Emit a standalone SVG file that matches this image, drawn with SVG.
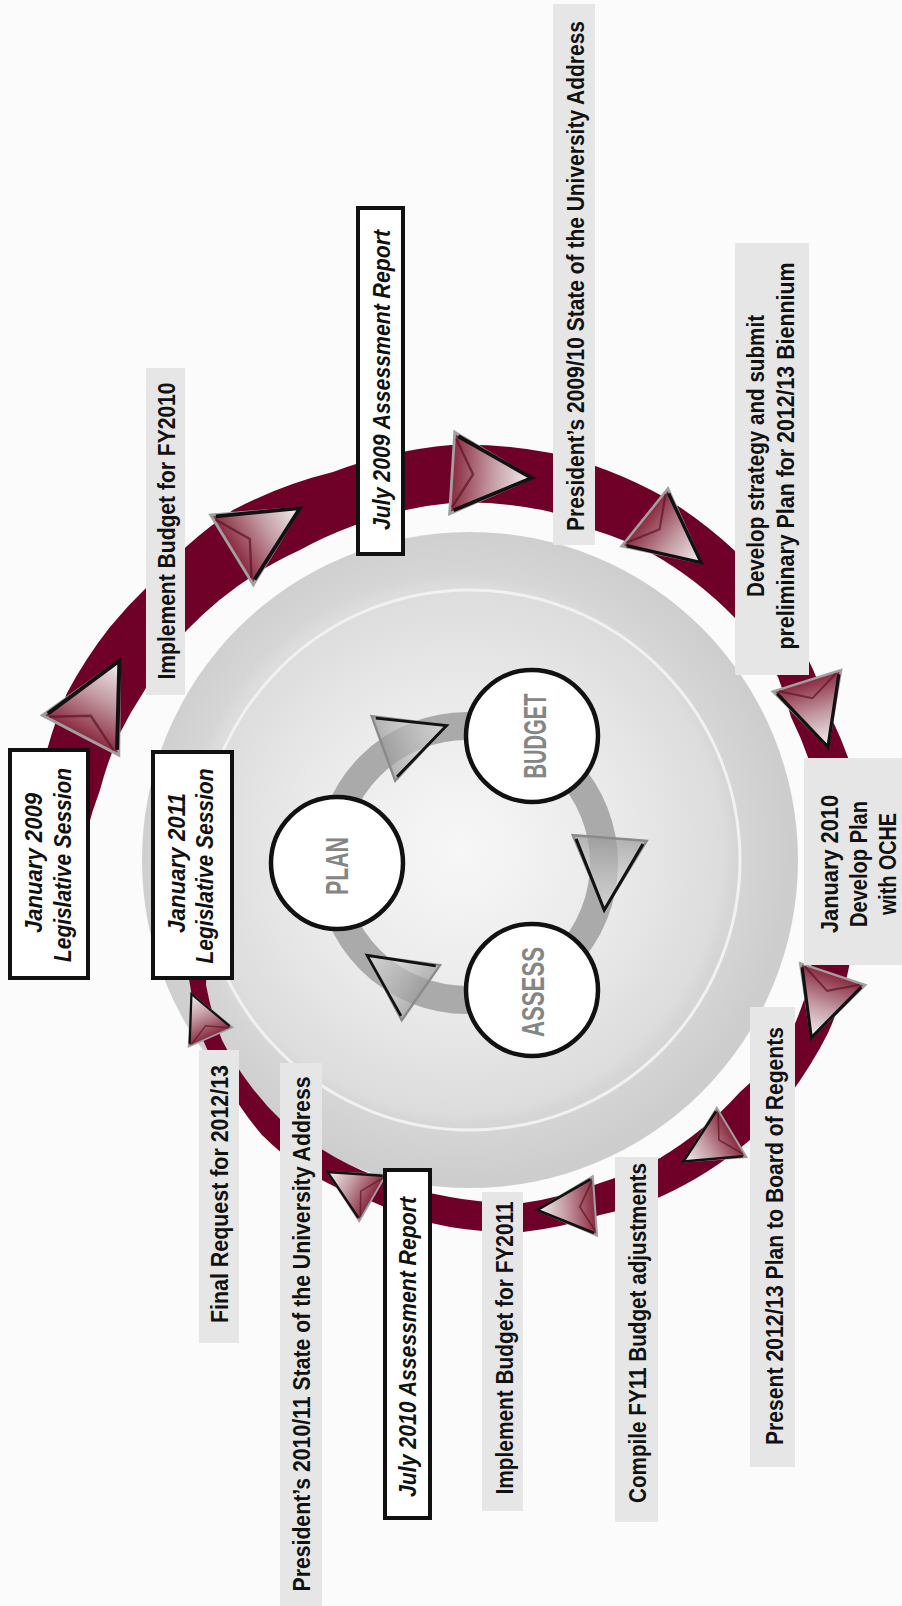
<svg xmlns="http://www.w3.org/2000/svg" width="902" height="1606" viewBox="0 0 902 1606">
<defs>
<style>
.lb{font-family:"Liberation Sans Narrow","Liberation Sans",Arial,sans-serif;font-weight:bold;font-size:24px;fill:#111;text-anchor:middle}
.it{font-family:"Liberation Sans Narrow","Liberation Sans",Arial,sans-serif;font-style:italic;font-weight:bold;font-size:24px;fill:#111;text-anchor:middle}
.nd{font-family:"Liberation Sans Narrow","Liberation Sans",Arial,sans-serif;font-weight:bold;font-size:31px;fill:#858585;text-anchor:middle}
.gbox{fill:#e6e6e6}
.fbox{fill:#fff;stroke:#111;stroke-width:4}
.node{fill:#fff;stroke:#111;stroke-width:4.5}
</style>
<radialGradient id="disc" cx="460" cy="850" r="330" gradientUnits="userSpaceOnUse">
<stop offset="0" stop-color="#f7f7f7"/>
<stop offset="0.5" stop-color="#e9e9e9"/>
<stop offset="0.8" stop-color="#dcdcdc"/>
<stop offset="0.83" stop-color="#d6d6d6"/>
<stop offset="1" stop-color="#cdcdcd"/>
</radialGradient>
<linearGradient id="ga" gradientUnits="userSpaceOnUse" x1="-42" y1="0" x2="42" y2="0">
<stop offset="0" stop-color="#8a2a40"/>
<stop offset="0.5" stop-color="#c39aa2"/>
<stop offset="1" stop-color="#f3f3f3"/>
</linearGradient>
<linearGradient id="gs" gradientUnits="userSpaceOnUse" x1="-42" y1="0" x2="42" y2="0">
<stop offset="0" stop-color="#9a9a9a" stop-opacity="0.7"/>
<stop offset="1" stop-color="#eeeeee" stop-opacity="0.6"/>
</linearGradient>
<g id="bigArrow">
<polygon points="42,0 -42,-43 -42,43" fill="url(#ga)" stroke="#a0a0a0" stroke-width="3"/>
<path d="M -40,-36 L -20,0 L -40,36" fill="none" stroke="#5a1626" stroke-width="2.5" opacity="0.7"/>
<polyline points="-38,-39 42,0 -38,39" fill="none" stroke="#111" stroke-width="4" stroke-linejoin="miter"/>
</g>
<g id="smallArrow">
<polygon points="42,0 -42,-43 -42,43" fill="url(#gs)" stroke="#8a8a8a" stroke-width="3"/>
<polyline points="-38,-39 42,0 -38,39" fill="none" stroke="#111" stroke-width="3.5"/>
</g>
</defs>
<rect width="902" height="1606" fill="#fbfbfb"/>

<g id="disc-bg">
<circle cx="470" cy="860" r="328" fill="url(#disc)"/>
<circle cx="470" cy="860" r="270" fill="none" stroke="#f1f1f1" stroke-width="3"/>
</g>

<g id="connectors">
<circle id="inner-cycle" cx="467" cy="863" r="137" fill="none" stroke="#aaaaaa" stroke-width="28"/>
<use href="#smallArrow" transform="translate(415,737) rotate(-20) scale(0.8)"/>
<use href="#smallArrow" transform="translate(607,874) rotate(94.4) scale(0.86)"/>
<use href="#smallArrow" transform="translate(394,974) rotate(214.8) scale(0.78)"/>
<path id="spiral" fill="#6f0027" d="M 30 850 A 440 440 0 0 1 47 750 A 440 440 0 0 1 67 693 A 440 440 0 0 1 110 627 A 440 440 0 0 1 147 587 A 440 440 0 0 1 233 510 A 440 440 0 0 1 333 472 A 440 440 0 0 1 451 445 A 440 440 0 0 1 551 453 A 440 440 0 0 1 664 497 A 440 440 0 0 1 734 550 A 440 440 0 0 1 790 625 A 440 440 0 0 1 831 717 A 440 440 0 0 1 849 760 A 380 380 0 0 1 855 860 A 380 380 0 0 1 849 967 A 380 380 0 0 1 841 1000 A 380 380 0 0 1 828 1033 A 380 380 0 0 1 810 1065 A 380 380 0 0 1 750 1140 A 380 380 0 0 1 660 1197 A 380 380 0 0 1 600 1215 A 380 380 0 0 1 523 1232 A 380 380 0 0 1 450 1227 A 300 300 0 0 1 373 1202 A 300 300 0 0 1 300 1167 A 300 300 0 0 1 262 1135 A 300 300 0 0 1 230 1090 A 300 300 0 0 1 203 1040 A 300 300 0 0 1 190 985 A 300 300 0 0 1 186 955 L 208 955 A 280 280 0 0 0 206 985 A 280 280 0 0 0 222 1040 A 280 280 0 0 0 250 1085 A 280 280 0 0 0 283 1122 A 280 280 0 0 0 323 1150 A 280 280 0 0 0 373 1175 A 350 350 0 0 0 450 1197 A 350 350 0 0 0 523 1203 A 350 350 0 0 0 600 1183 A 350 350 0 0 0 660 1158 A 350 350 0 0 0 740 1092 A 350 350 0 0 0 768 1065 A 350 350 0 0 0 790 1035 A 350 350 0 0 0 804 1000 A 350 350 0 0 0 811 967 A 350 350 0 0 0 814 860 A 350 350 0 0 0 809 760 A 370 370 0 0 0 791 717 A 370 370 0 0 0 778 677 A 370 370 0 0 0 734 617 A 370 370 0 0 0 651 553 A 370 370 0 0 0 594 530 A 370 370 0 0 0 551 512 A 370 370 0 0 0 451 503 A 370 370 0 0 0 350 527 A 370 370 0 0 0 300 550 A 370 370 0 0 0 187 630 A 370 370 0 0 0 143 693 A 370 370 0 0 0 120 733 A 370 370 0 0 0 100 790 A 370 370 0 0 0 86 835 Z"/>
<use href="#bigArrow" transform="translate(100,698) rotate(-62.5) scale(1)"/>
<use href="#bigArrow" transform="translate(266,529) rotate(-31.5) scale(0.95)"/>
<use href="#bigArrow" transform="translate(492,475.5) rotate(3.6) scale(0.95)"/>
<use href="#bigArrow" transform="translate(673,540) rotate(38.8) scale(0.86)"/>
<use href="#bigArrow" transform="translate(817.5,714) rotate(72.5) scale(0.83)"/>
<use href="#bigArrow" transform="translate(822,1006) rotate(108.6) scale(0.8)"/>
<use href="#bigArrow" transform="translate(707.5,1147) rotate(149) scale(0.67)"/>
<use href="#bigArrow" transform="translate(566,1208) rotate(176) scale(0.69)"/>
<use href="#bigArrow" transform="translate(350,1185) rotate(210) scale(0.62)"/>
<use href="#bigArrow" transform="translate(201,1015.5) rotate(246) scale(0.56)"/>
</g>

<g id="node-plan">
<circle class="node" cx="337" cy="863" r="66"/>
<text class="nd" transform="translate(348,866) rotate(-90)" textLength="58" lengthAdjust="spacingAndGlyphs">PLAN</text>
</g>
<g id="node-budget">
<circle class="node" cx="532" cy="736" r="66"/>
<text class="nd" transform="translate(546,736) rotate(-90)" textLength="85" lengthAdjust="spacingAndGlyphs">BUDGET</text>
</g>
<g id="node-assess">
<circle class="node" cx="532" cy="990" r="66"/>
<text class="nd" transform="translate(544,992) rotate(-90)" textLength="90" lengthAdjust="spacingAndGlyphs">ASSESS</text>
</g>

<g id="label-jan2009">
<rect class="fbox" x="10" y="750" width="78" height="228"/>
<text class="it" transform="translate(42,863) rotate(-90)" textLength="140" lengthAdjust="spacingAndGlyphs">January 2009</text>
<text class="it" transform="translate(71,865) rotate(-90)" textLength="194" lengthAdjust="spacingAndGlyphs">Legislative  Session</text>
</g>
<g id="label-impl2010">
<rect class="gbox" x="146" y="368" width="39" height="327"/>
<text class="lb" transform="translate(175,531) rotate(-90)" textLength="297" lengthAdjust="spacingAndGlyphs">Implement Budget for FY2010</text>
</g>
<g id="label-jul2009">
<rect class="fbox" x="358" y="208" width="45" height="346"/>
<text class="it" transform="translate(390,380) rotate(-90)" textLength="300" lengthAdjust="spacingAndGlyphs">July 2009 Assessment Report</text>
</g>
<g id="label-pres0910">
<rect class="gbox" x="553" y="4" width="42" height="541"/>
<text class="lb" transform="translate(584,276) rotate(-90)" textLength="510" lengthAdjust="spacingAndGlyphs">President’s 2009/10 State of the University Address</text>
</g>
<g id="label-strategy">
<rect class="gbox" x="735" y="243" width="74" height="432"/>
<text class="lb" transform="translate(764,456) rotate(-90)" textLength="282" lengthAdjust="spacingAndGlyphs">Develop strategy and submit</text>
<text class="lb" transform="translate(794,456) rotate(-90)" textLength="387" lengthAdjust="spacingAndGlyphs">preliminary Plan for 2012/13 Biennium</text>
</g>
<g id="label-jan2010">
<rect class="gbox" x="804" y="758" width="98" height="207"/>
<text class="lb" transform="translate(838,864) rotate(-90)" textLength="138" lengthAdjust="spacingAndGlyphs">January 2010</text>
<text class="lb" transform="translate(867,864) rotate(-90)" textLength="126" lengthAdjust="spacingAndGlyphs">Develop Plan</text>
<text class="lb" transform="translate(896,864) rotate(-90)" textLength="102" lengthAdjust="spacingAndGlyphs">with OCHE</text>
</g>
<g id="label-present">
<rect class="gbox" x="750" y="1007" width="45" height="460"/>
<text class="lb" transform="translate(783,1236) rotate(-90)" textLength="418" lengthAdjust="spacingAndGlyphs">Present 2012/13 Plan to Board of Regents</text>
</g>
<g id="label-compile">
<rect class="gbox" x="615" y="1157" width="43" height="365"/>
<text class="lb" transform="translate(646,1333) rotate(-90)" textLength="340" lengthAdjust="spacingAndGlyphs">Compile FY11 Budget adjustments</text>
</g>
<g id="label-impl2011">
<rect class="gbox" x="482" y="1192" width="41" height="319"/>
<text class="lb" transform="translate(513,1348) rotate(-90)" textLength="293" lengthAdjust="spacingAndGlyphs">Implement Budget for FY2011</text>
</g>
<g id="label-jul2010">
<rect class="fbox" x="385" y="1170" width="45" height="348"/>
<text class="it" transform="translate(416,1347) rotate(-90)" textLength="300" lengthAdjust="spacingAndGlyphs">July 2010 Assessment Report</text>
</g>
<g id="label-pres1011">
<rect class="gbox" x="280" y="1063" width="42" height="543"/>
<text class="lb" transform="translate(310,1334) rotate(-90)" textLength="515" lengthAdjust="spacingAndGlyphs">President’s 2010/11 State of the University Address</text>
</g>
<g id="label-final">
<rect class="gbox" x="199" y="1050" width="40" height="293"/>
<text class="lb" transform="translate(228,1194) rotate(-90)" textLength="258" lengthAdjust="spacingAndGlyphs">Final Request for 2012/13</text>
</g>
<g id="label-jan2011">
<rect class="fbox" x="153" y="752" width="79" height="226"/>
<text class="it" transform="translate(185,863) rotate(-90)" textLength="140" lengthAdjust="spacingAndGlyphs">January 2011</text>
<text class="it" transform="translate(213,866) rotate(-90)" textLength="195" lengthAdjust="spacingAndGlyphs">Legislative  Session</text>
</g>
</svg>
